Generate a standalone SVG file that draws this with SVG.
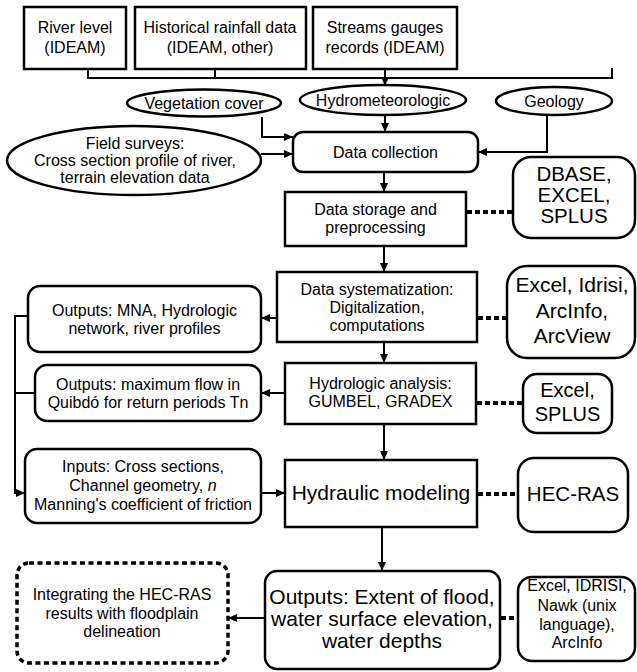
<svg xmlns="http://www.w3.org/2000/svg" width="637" height="672" viewBox="0 0 637 672">
<defs>
<marker id="ah" markerUnits="userSpaceOnUse" markerWidth="9" markerHeight="8" refX="9" refY="4" orient="auto"><path d="M0,0 L9,4 L0,8 z" fill="#000"/></marker>
<style>
.box{fill:#fff;stroke:#000;stroke-width:2.5}
.t{font-family:"Liberation Sans",Arial,sans-serif;font-size:16px;fill:#000;text-anchor:middle}
.c{fill:none;stroke:#000;stroke-width:2}
.arr{marker-end:url(#ah)}
.dot{fill:none;stroke:#000;stroke-width:4;stroke-dasharray:5 3}
.dash{fill:#fff;stroke:#000;stroke-width:3.5;stroke-dasharray:5 3.5}
</style>
</defs>
<rect width="637" height="672" fill="#fff"/>
<g id="nodes">
<g id="n_river"><rect class="box" x="24" y="7" width="102" height="62"/><text class="t" x="75" y="33">River level</text><text class="t" x="75" y="53">(IDEAM)</text></g>
<g id="n_hist"><rect class="box" x="135" y="7" width="171" height="62"/><text class="t" x="220" y="33">Historical rainfall data</text><text class="t" x="220" y="53">(IDEAM, other)</text></g>
<g id="n_streams"><rect class="box" x="313" y="7" width="144" height="62"/><text class="t" x="385" y="33">Streams gauges</text><text class="t" x="385" y="53">records (IDEAM)</text></g>
<g id="n_veg"><ellipse class="box" cx="204" cy="103" rx="77" ry="13.5"/><text class="t" x="204" y="108.5">Vegetation cover</text></g>
<g id="n_hydro"><ellipse class="box" cx="383" cy="100" rx="83" ry="15"/><text class="t" x="383" y="105.5">Hydrometeorologic</text></g>
<g id="n_geo"><ellipse class="box" cx="554" cy="101" rx="58" ry="14"/><text class="t" x="554" y="106.5">Geology</text></g>
<g id="n_field"><ellipse class="box" cx="134" cy="160.5" rx="127" ry="34.5"/><text class="t" x="135" y="149">Field surveys:</text><text class="t" x="135" y="166">Cross section profile of river,</text><text class="t" x="135" y="183">terrain elevation data</text></g>
<g id="n_collect"><rect class="box" x="293" y="132" width="185" height="40" rx="10"/><text class="t" x="385.5" y="157.5">Data collection</text></g>
<g id="n_storage"><rect class="box" x="285" y="192" width="181" height="54"/><text class="t" x="375.5" y="215">Data storage and</text><text class="t" x="375.5" y="233">preprocessing</text></g>
<g id="n_dbase"><rect class="box" x="513" y="157" width="122" height="81" rx="18"/><text class="t" style="font-size:20.5px" x="574" y="181">DBASE,</text><text class="t" style="font-size:20.5px" x="574" y="202">EXCEL,</text><text class="t" style="font-size:20.5px" x="574" y="223">SPLUS</text></g>
<g id="n_system"><rect class="box" x="277" y="272" width="200" height="70"/><text class="t" x="377" y="294.5">Data systematization:</text><text class="t" x="377" y="312.5">Digitalization,</text><text class="t" x="377" y="330.5">computations</text></g>
<g id="n_excel1"><rect class="box" x="507" y="266" width="128" height="92" rx="20"/><text class="t" style="font-size:21px" x="572" y="292">Excel, Idrisi,</text><text class="t" style="font-size:21px" x="572" y="317.5">ArcInfo,</text><text class="t" style="font-size:21px" x="572" y="343">ArcView</text></g>
<g id="n_mna"><rect class="box" x="28" y="286" width="233" height="66" rx="12"/><text class="t" x="144.5" y="315.5">Outputs: MNA, Hydrologic</text><text class="t" x="144.5" y="333.5">network, river profiles</text></g>
<g id="n_maxflow"><rect class="box" x="35" y="365" width="226" height="56" rx="12"/><text class="t" x="148" y="389.5">Outputs: maximum flow in</text><text class="t" x="148" y="407.5">Quibdó for return periods Tn</text></g>
<g id="n_hydan"><rect class="box" x="285" y="363" width="191" height="61"/><text class="t" x="380.5" y="389">Hydrologic analysis:</text><text class="t" x="380.5" y="407">GUMBEL, GRADEX</text></g>
<g id="n_excel2"><rect class="box" x="523" y="374" width="89" height="59" rx="14"/><text class="t" style="font-size:20px" x="567.5" y="397">Excel,</text><text class="t" style="font-size:20px" x="567.5" y="421">SPLUS</text></g>
<g id="n_inputs"><rect class="box" x="25" y="449" width="236" height="74" rx="12"/><text class="t" x="143" y="472">Inputs: Cross sections,</text><text class="t" x="143" y="491">Channel geometry, <tspan font-style="italic">n</tspan></text><text class="t" x="143" y="510">Manning's coefficient of friction</text></g>
<g id="n_hydraulic"><rect class="box" x="285" y="460" width="192" height="67"/><text class="t" style="font-size:21px" x="381" y="500">Hydraulic modeling</text></g>
<g id="n_hecras"><rect class="box" x="518" y="458" width="110" height="74" rx="16"/><text class="t" style="font-size:20.5px" x="573" y="501">HEC-RAS</text></g>
<g id="n_outputs"><rect class="box" x="265" y="571" width="235" height="98" rx="12"/><text class="t" style="font-size:21px" x="382" y="604">Outputs: Extent of flood,</text><text class="t" style="font-size:21px" x="382" y="626">water surface elevation,</text><text class="t" style="font-size:21px" x="382" y="648">water depths</text></g>
<g id="n_integr"><rect class="dash" x="17" y="563" width="211" height="100" rx="12"/><text class="t" x="122" y="600">Integrating the HEC-RAS</text><text class="t" x="122" y="618.5">results with floodplain</text><text class="t" x="122" y="637">delineation</text></g>
<g id="n_excel3"><rect class="box" x="518" y="577" width="117" height="84" rx="14"/><text class="t" x="577" y="591">Excel, IDRISI,</text><text class="t" x="577" y="611">Nawk (unix</text><text class="t" x="577" y="630">language),</text><text class="t" x="577" y="648">ArcInfo</text></g>
</g>
<g id="connectors">
<path class="c" d="M88,69 V78 H612 V68"/>
<path class="c" d="M215,69 V78"/>
<path class="c arr" d="M385,69 V86"/>
<path class="c arr" d="M262,117 V137 H293"/>
<path class="c arr" d="M261,154 H293"/>
<path class="c arr" d="M385,115 V132"/>
<path class="c arr" d="M547,115 V152 H478"/>
<path class="c arr" d="M384,172 V192"/>
<path class="dot" d="M467,212 H513"/>
<path class="c arr" d="M384,246 V272"/>
<path class="c arr" d="M277,318 H261"/>
<path class="dot" d="M478,318 H507"/>
<path class="c arr" d="M28,316 H15 V493 H25"/>
<path class="c" d="M35,393 H15"/>
<path class="c arr" d="M384,342 V363"/>
<path class="c arr" d="M285,393 H261"/>
<path class="dot" d="M477,403 H523"/>
<path class="c arr" d="M384,424 V460"/>
<path class="c arr" d="M261,493 H285"/>
<path class="dot" d="M478,494 H518"/>
<path class="c arr" d="M382,527 V571"/>
<path class="c arr" d="M265,618 H228"/>
<path class="dot" d="M501,618 H518"/>
</g>
</svg>
